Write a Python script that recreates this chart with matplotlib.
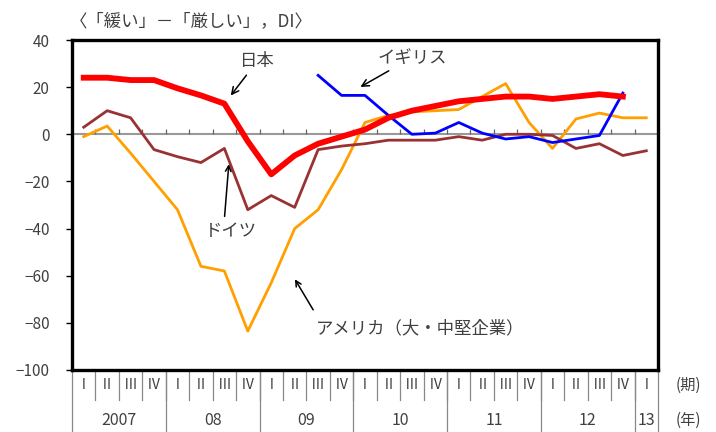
import matplotlib
matplotlib.use("Agg")
import matplotlib.pyplot as plt
import numpy as np

plt.rcParams['font.family'] = ['Noto Sans CJK JP', 'DejaVu Sans']

# quarters 2007 Q1 .. 2013 Q1
quarter_labels = ['Ⅰ', 'Ⅱ', 'Ⅲ', 'Ⅳ'] * 6 + ['Ⅰ']
year_labels = ['2007', '08', '09', '10', '11', '12', '13']
year_quarters = [4, 4, 4, 4, 4, 4, 1]

japan = [24, 24, 23, 23, 19.5, 16.5, 13, -3, -17, -9, -4, -1, 2, 7, 10, 12,
         14, 15, 16, 16, 15, 16, 17, 16, None]
germany = [3, 10, 7, -6.5, -9.5, -12, -6, -32, -26, -31, -6.5, -5, -4, -2.5,
           -2.5, -2.5, -1, -2.5, 0, 0, -0.5, -6, -4, -9, -7]
usa = [-1, 3.5, -8, -20, -32, -56, -58, -83.5, -63, -40, -32, -15, 5, 8, 9.5,
       10, 10.5, 16, 21.5, 5, -6, 6.5, 9, 7, 7]
uk = [None] * 10 + [25, 16.5, 16.5, 8, 0, 0.5, 5, 0.5, -2, -1, -3.5, -2,
                    -0.5, 17.5, None]


def to_arr(vals):
    return np.array([np.nan if v is None else v for v in vals], dtype=float)


n = len(quarter_labels)
x = np.arange(n) + 0.5
txt = '#404040'

fig = plt.figure(figsize=(7.16, 4.32), dpi=100)
ax = fig.add_axes([72 / 716, 62 / 432, 586 / 716, 330 / 432])

ax.axhline(0, color='#999999', lw=1.5, zorder=1)
ax.vlines(np.arange(1, n), 0, 2.2, color='#666666', lw=0.9, zorder=1)

ax.plot(x, to_arr(usa), color='#FFA000', lw=2.0, zorder=3)
ax.plot(x, to_arr(germany), color='#993333', lw=2.0, zorder=3)
ax.plot(x, to_arr(uk), color='#0000FF', lw=2.0, zorder=4)
ax.plot(x, to_arr(japan), color='#FF0000', lw=4.2, zorder=5)

ax.set_xlim(0, n)
ax.set_ylim(-100, 40)
ax.set_yticks(np.arange(-100, 41, 20))
ax.set_xticks([])
ax.tick_params(axis='y', direction='out', length=4, width=1, pad=12,
               labelsize=11, labelcolor=txt)
for s in ax.spines.values():
    s.set_linewidth(2.4)
    s.set_color('black')

# category table below the plot
tr = ax.get_xaxis_transform()
for i, q in enumerate(quarter_labels):
    ax.text(x[i], -0.045, q, transform=tr, ha='center', va='center',
            fontsize=10, color=txt)
for b in range(1, n):
    ax.plot([b, b], [0, -0.09], transform=tr, color='#888888', lw=0.9,
            clip_on=False)
start = 0
for lab, nq in zip(year_labels, year_quarters):
    ax.text(start + nq / 2, -0.152, lab, transform=tr, ha='center',
            va='center', fontsize=11.5, color=txt)
    start += nq
    ax.plot([start, start], [0, -0.19], transform=tr, color='#888888',
            lw=0.9, clip_on=False)
ax.plot([0, 0], [0, -0.19], transform=tr, color='#888888', lw=0.9,
        clip_on=False)

fig.text(688 / 716, 1 - 385 / 432, '(期)', ha='center', va='center',
         fontsize=11, color=txt)
fig.text(688 / 716, 1 - 420 / 432, '(年)', ha='center', va='center',
         fontsize=11, color=txt)
fig.text(70 / 716, 1 - 21 / 432, '〈「緩い」－「厳しい」，DI〉', ha='left',
         va='center', fontsize=12.5, color=txt)

arrow = dict(arrowstyle='->', color='black', lw=1.1)
ax.annotate('日本', xy=(6.7, 15.5), xytext=(7.9, 31), ha='center',
            va='center', fontsize=12.5, color=txt, arrowprops=arrow)
ax.annotate('イギリス', xy=(12.2, 19.5), xytext=(14.5, 32.5), ha='center',
            va='center', fontsize=12.5, color=txt, arrowprops=arrow)
ax.annotate('', xy=(6.7, -11.5), xytext=(6.5, -36), arrowprops=arrow)
ax.text(6.8, -41, 'ドイツ', ha='center', va='center', fontsize=12.5,
        color=txt)
ax.annotate('', xy=(9.45, -60.5), xytext=(10.35, -75.5), arrowprops=arrow)
ax.text(10.4, -82.5, 'アメリカ（大・中堅企業）', ha='left', va='center',
        fontsize=12.5, color=txt)

fig.savefig('out.png', dpi=100)
